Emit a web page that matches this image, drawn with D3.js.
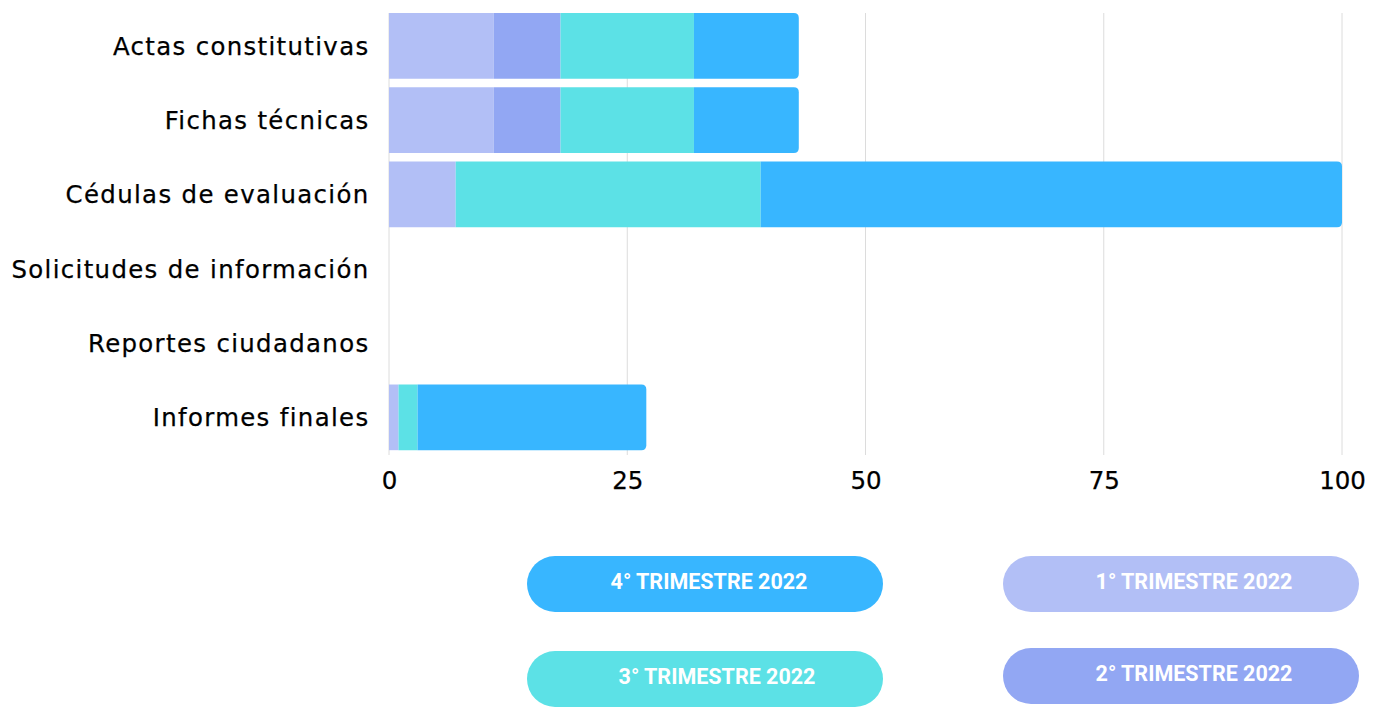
<!DOCTYPE html>
<html><head><meta charset="utf-8">
<script src="https://cdn.jsdelivr.net/npm/d3@7"></script>
<style>body{margin:0;background:#fff}svg{display:block}</style>
</head><body>
<svg id="c" width="1385" height="707"></svg>
<script>
const categories = ["Actas constitutivas","Fichas técnicas","Cédulas de evaluación","Solicitudes de información","Reportes ciudadanos","Informes finales"];
const seriesNames = ["1° TRIMESTRE 2022","2° TRIMESTRE 2022","3° TRIMESTRE 2022","4° TRIMESTRE 2022"];
const q1 = [11, 11, 7, 0, 0, 1];
const q2 = [7, 7, 0, 0, 0, 0];
const q3 = [14, 14, 32, 0, 0, 2];
const q4 = [11, 11, 61, 0, 0, 24];
const xTicks = [0, 25, 50, 75, 100];
const colors = ["#b2bff6", "#92a7f3", "#5ce1e6", "#38b6ff"];

const svg = d3.select("#c");
const x = d3.scaleLinear().domain([0, 100]).range([389, 1342]);
const y = d3.scaleBand().domain(categories).range([8.7, 454.5]).paddingInner(0.116).paddingOuter(0.058);

// grid
svg.append("g").selectAll("line").data(xTicks).join("line")
  .attr("x1", d => x(d)).attr("x2", d => x(d))
  .attr("y1", 13).attr("y2", 455)
  .attr("stroke", "#dcdcdc").attr("stroke-width", 1);

const rows = categories.map((c, i) => ({cat: c, q1: q1[i], q2: q2[i], q3: q3[i], q4: q4[i]}));
const keys = ["q1", "q2", "q3", "q4"];
const stack = d3.stack().keys(keys)(rows);

const r = 5;
function segPath(x0, x1, y0, h, roundRight) {
  if (!roundRight) return `M${x0},${y0}H${x1}V${y0+h}H${x0}Z`;
  const rr = Math.min(r, (x1 - x0));
  return `M${x0},${y0}H${x1-rr}Q${x1},${y0} ${x1},${y0+rr}V${y0+h-rr}Q${x1},${y0+h} ${x1-rr},${y0+h}H${x0}Z`;
}
stack.forEach((layer, li) => {
  svg.append("g").selectAll("path").data(layer.filter(d => d[1] > d[0])).join("path")
    .attr("fill", colors[li])
    .attr("d", d => {
      const isLast = keys.slice(li + 1).every(k => d.data[k] === 0);
      return segPath(x(d[0]), x(d[1]), y(d.data.cat), y.bandwidth(), isLast);
    });
});

// y labels
svg.append("g").selectAll("text").data(categories).join("text")
  .attr("x", 369.5).attr("y", d => y(d) + y.bandwidth() / 2)
  .attr("dy", "0.37em").attr("text-anchor", "end")
  .attr("font-family", "DejaVu Sans").attr("font-size", 24.4)
  .attr("letter-spacing", "1.35px").attr("fill", "#000")
  .attr("stroke", "#000").attr("stroke-width", 0.25)
  .text(d => d);

// x tick labels
const xAxis = d3.axisBottom(x).tickValues(xTicks).tickSize(0).tickPadding(0);
const gx = svg.append("g").attr("transform", "translate(0,489)").call(xAxis);
gx.select(".domain").remove();
gx.selectAll("text").attr("font-family", "DejaVu Sans").attr("font-size", 24.5)
  .attr("fill", "#000").attr("stroke", "#000").attr("stroke-width", 0.25).attr("dy", 0);

// legend
const legend = [
  {name: seriesNames[3], color: colors[3], x: 527, y: 556, dx: 4},
  {name: seriesNames[2], color: colors[2], x: 527, y: 651, dx: 12},
  {name: seriesNames[0], color: colors[0], x: 1003, y: 556, dx: 13},
  {name: seriesNames[1], color: colors[1], x: 1003, y: 648, dx: 13}
];
const lg = svg.append("g").selectAll("g").data(legend).join("g")
  .attr("transform", d => `translate(${d.x},${d.y})`);
lg.append("rect").attr("width", 356).attr("height", 56).attr("rx", 28)
  .attr("fill", d => d.color);
lg.append("text").attr("x", d => 178 + d.dx).attr("y", 32.5).attr("text-anchor", "middle")
  .attr("font-family", "Roboto").attr("font-weight", 700).attr("font-size", 21.5)
  .attr("fill", "#fff").text(d => d.name);
</script>
</body></html>
